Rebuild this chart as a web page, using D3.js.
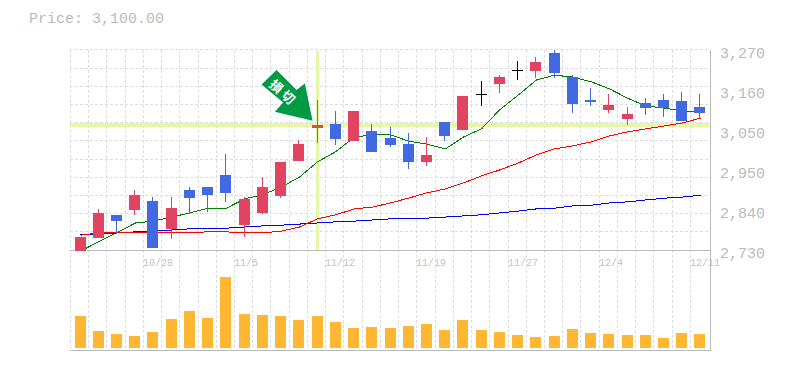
<!DOCTYPE html>
<html>
<head>
<meta charset="utf-8">
<script src="https://cdn.jsdelivr.net/npm/d3@7"></script>
<style>
  html, body { margin: 0; padding: 0; background: #fff; }
  svg { display: block; }
  text { font-family: "Liberation Mono", monospace; fill: #bbb; }
</style>
</head>
<body>
<div id="chart"></div>
<script>
const dates = ["10/21","10/23","10/24","10/25","10/28","10/29","10/30","10/31","11/1","11/5",
  "11/6","11/7","11/8","11/11","11/12","11/13","11/14","11/15","11/18","11/19",
  "11/21","11/22","11/25","11/26","11/27","11/28","11/29","12/2","12/3","12/4",
  "12/5","12/6","12/9","12/10","12/11"];

const opens = [2727,2762,2825,2838,2862,2787,2892,2900,2932,2798,
  2830,2876,2970,3059,3070,3024,3051,3032,3016,2968,
  3076,3054,3151,3178,3216,3213,3262,3197,3135,3108,
  3084,3127,3135,3132,3116];
const closes = [2765,2830,2808,2879,2735,2843,2870,2879,2884,2868,
  2900,2968,3016,3068,3030,3105,2995,3014,2968,2987,
  3038,3146,3151,3197,3216,3238,3208,3124,3130,3121,
  3097,3113,3113,3078,3100];
const highs = [2765,2841,2825,2892,2873,2873,2900,2900,2989,2873,
  2927,2968,3027,3135,3105,3105,3070,3062,3046,3035,
  3076,3146,3186,3202,3240,3251,3270,3202,3167,3151,
  3116,3140,3151,3157,3151];
const lows = [2727,2762,2773,2825,2735,2760,2827,2833,2860,2765,
  2827,2870,2970,3019,3014,3024,2995,3008,2949,2957,
  3024,3054,3119,3154,3189,3194,3194,3100,3119,3100,
  3068,3095,3089,3078,3084];

const maShort = [2727,2752,2776,2803,2808,2819,2830,2843,2843,2868,
  2879,2900,2927,2968,2995,3035,3041,3041,3024,3016,
  3003,3035,3057,3108,3149,3189,3202,3197,3184,3165,
  3140,3119,3113,3105,3103];
const maMid = [2770,2776,2776,2776,2776,2776,2777,2779,2779,2776,
  2776,2781,2792,2814,2825,2841,2846,2857,2870,2884,
  2895,2911,2930,2946,2965,2987,3003,3011,3022,3038,
  3049,3057,3065,3073,3086];
const maLong = [2771,2773,2776,2779,2781,2784,2787,2789,2789,2792,
  2795,2797,2800,2803,2806,2808,2811,2814,2814,2816,
  2819,2822,2825,2830,2835,2841,2843,2849,2851,2857,
  2860,2865,2870,2873,2878];

const volumes = [320,170,140,120,160,290,370,300,710,340,
  330,320,280,320,260,200,210,200,220,240,
  180,280,180,160,130,110,120,190,150,140,
  130,130,100,150,140];

const priceTicks = ["3,270","3,160","3,050","2,950","2,840","2,730"];
const dateLabels = ["10/28","11/5","11/12","11/19","11/27","12/4","12/11"];
const priceNote = "Price: 3,100.00";
const noteDate = "11/11";
const noteLabel = "損切";

const width = 785, height = 370;
const plotLeft = 70, plotRight = 710, plotTop = 50, plotMid = 250, plotBottom = 350;
const bodyWidth = 11;

const svg = d3.select("#chart").append("svg")
  .attr("width", width)
  .attr("height", height)
  .attr("shape-rendering", "crispEdges");

const x = d3.scaleBand().domain(dates).range([71.4, 709.6]);
const gridRow = d3.scalePoint().domain(d3.range(12)).range([plotTop, plotMid]);
const yPrice = d3.scaleLinear().domain([2730, 3270]).range([plotMid, plotTop]);
const yVol = d3.scaleLinear().domain([0, 1000]).range([348, 248]);

const centre = (d) => x(d) + x.bandwidth() / 2;
const barLeft = (d) => Math.floor(centre(d) - bodyWidth / 2);

// Grid ------------------------------------------------------
const grid = svg.append("g")
  .attr("stroke", "#ddd")
  .attr("stroke-dasharray", "3,2");

grid.selectAll("line.h").data(gridRow.domain()).join("line")
  .attr("class", "h")
  .attr("x1", plotLeft).attr("x2", plotRight)
  .attr("y1", (d) => Math.floor(gridRow(d)) + 0.5)
  .attr("y2", (d) => Math.floor(gridRow(d)) + 0.5);

grid.selectAll("line.v").data(dates).join("line")
  .attr("class", "v")
  .attr("x1", (d) => Math.floor(x(d) - 1) + 0.5)
  .attr("x2", (d) => Math.floor(x(d) - 1) + 0.5)
  .attr("y1", plotTop).attr("y2", plotBottom);

// Crosshair on the noted day
const noteIndex = dates.indexOf(noteDate);
const noteX = centre(noteDate);
const noteY = yPrice(closes[noteIndex]);
svg.append("rect")
  .attr("x", plotLeft).attr("width", plotRight - plotLeft)
  .attr("y", Math.round(noteY) - 2).attr("height", 4)
  .attr("fill", "#e6f7a8");
svg.append("rect")
  .attr("x", Math.floor(noteX) - 1).attr("width", 3)
  .attr("y", plotTop + 1).attr("height", plotMid - plotTop - 1)
  .attr("fill", "#e6f7a8");

// Frame
const frame = svg.append("g").attr("stroke", "#bbb");
frame.append("line").attr("x1", plotRight + 0.5).attr("x2", plotRight + 0.5).attr("y1", plotTop).attr("y2", plotBottom + 1);
frame.append("line").attr("x1", plotLeft).attr("x2", plotRight + 1).attr("y1", plotMid + 0.5).attr("y2", plotMid + 0.5);
frame.append("line").attr("x1", plotLeft).attr("x2", plotRight + 1).attr("y1", plotBottom + 0.5).attr("y2", plotBottom + 0.5);

// Moving averages
const line = d3.line().x((d, i) => Math.floor(centre(dates[i])) + 0.5).y((d) => yPrice(d));
[[maShort, "#008000"], [maLong, "#0000ff"], [maMid, "#ff0000"]].forEach(([values, color]) => {
  svg.append("path")
    .datum(values)
    .attr("d", line)
    .attr("fill", "none")
    .attr("stroke", color)
    .attr("stroke-width", 1);
});

// Candles
const candleColor = (i) => closes[i] > opens[i] ? "#e24360" : closes[i] < opens[i] ? "#4169e1" : "#000";
const candles = svg.append("g").selectAll("g").data(dates).join("g");

candles.append("rect")
  .attr("x", (d) => barLeft(d) + 5)
  .attr("width", 1)
  .attr("y", (d, i) => Math.round(yPrice(highs[i])))
  .attr("height", (d, i) => Math.round(yPrice(lows[i])) - Math.round(yPrice(highs[i])))
  .attr("fill", (d, i) => candleColor(i));

candles.append("rect")
  .attr("x", (d) => barLeft(d))
  .attr("width", bodyWidth)
  .attr("y", (d, i) => Math.round(yPrice(Math.max(opens[i], closes[i]))))
  .attr("height", (d, i) => Math.max(1, Math.round(yPrice(Math.min(opens[i], closes[i]))) - Math.round(yPrice(Math.max(opens[i], closes[i])))))
  .attr("fill", (d, i) => candleColor(i));

// Volume
svg.append("g").selectAll("rect").data(dates).join("rect")
  .attr("x", (d) => barLeft(d))
  .attr("width", bodyWidth)
  .attr("y", (d, i) => yVol(volumes[i]))
  .attr("height", (d, i) => yVol(0) - yVol(volumes[i]))
  .attr("fill", "#ffb733");

// Arrow pointing at the noted day, offsets are from its tip
const arrowShape = [[-51, -36.4], [-36, -50.7], [-16, -30.7], [-7.7, -37.4], [0, 0], [-37.7, -9], [-29.4, -18.4]];
const arrow = svg.append("g")
  .attr("transform", `translate(${noteX - 5},${noteY - 4})`);
arrow.append("polygon")
  .attr("points", arrowShape.map((p) => p.join(",")).join(" "))
  .attr("fill", "#009944")
  .attr("shape-rendering", "auto");
arrow.append("text")
  .attr("transform", "translate(-29,-28) rotate(42)")
  .attr("text-anchor", "middle")
  .attr("dy", "0.38em")
  .style("font-family", '"Noto Sans CJK JP"')
  .style("font-weight", 700)
  .style("font-size", "13px")
  .style("letter-spacing", "3px")
  .style("fill", "#fff")
  .text(noteLabel);

// Text ------------------------------------------------------
svg.append("text")
  .attr("x", 29).attr("y", 23)
  .style("font-size", "15px")
  .text(priceNote);

svg.append("g").selectAll("text").data(priceTicks).join("text")
  .attr("x", 720)
  .attr("y", (d, i) => plotTop + i * 40 + 8)
  .style("font-size", "15px")
  .text((d) => d);

svg.append("g").selectAll("text").data(dateLabels).join("text")
  .attr("x", (d) => Math.floor(x(d) - 1))
  .attr("y", 266)
  .style("font-size", "10px")
  .style("fill", "#c4c4c4")
  .text((d) => d);
</script>
</body>
</html>
